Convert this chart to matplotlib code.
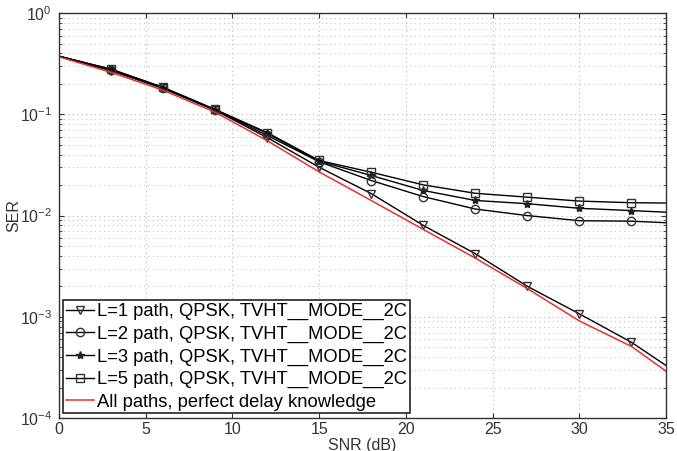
import matplotlib.pyplot as plt
import numpy as np

plt.rcParams['font.family'] = ['Liberation Sans', 'DejaVu Sans']

snr = [0, 3, 6, 9, 12, 15, 18, 21, 24, 27, 30, 33, 35]

ser_l1 = [0.375, 0.27, 0.18, 0.11, 0.059, 0.030, 0.0165, 0.0080, 0.0042, 0.0020, 0.00107, 0.00056, 0.00033]
ser_l2 = [0.375, 0.275, 0.182, 0.11, 0.062, 0.034, 0.0222, 0.0154, 0.0116, 0.0100, 0.0089, 0.0088, 0.0085]
ser_l3 = [0.375, 0.278, 0.184, 0.111, 0.065, 0.0345, 0.0249, 0.0177, 0.0141, 0.0131, 0.0118, 0.0112, 0.0108]
ser_l5 = [0.375, 0.28, 0.185, 0.112, 0.066, 0.035, 0.0268, 0.0201, 0.0166, 0.0152, 0.0139, 0.0134, 0.0133]
ser_ideal = [0.37, 0.26, 0.173, 0.105, 0.055, 0.027, 0.0141, 0.0073, 0.0038, 0.0019, 0.00091, 0.00051, 0.00029]

labels = ['L=1 path, QPSK, TVHT__MODE__2C',
          'L=2 path, QPSK, TVHT__MODE__2C',
          'L=3 path, QPSK, TVHT__MODE__2C',
          'L=5 path, QPSK, TVHT__MODE__2C',
          'All paths, perfect delay knowledge']

fig = plt.figure(figsize=(6.77, 4.51), dpi=100)
ax = fig.add_axes([0.087, 0.073, 0.897, 0.898])

mk = list(range(1, 12))  # markers every 3 dB, not at the ends
ax.semilogy(snr, ser_l1, color='k', lw=1, marker='v', ms=6, mfc='none', mec='#333333', markevery=mk, label=labels[0])
ax.semilogy(snr, ser_l2, color='k', lw=1, marker='o', ms=6, mfc='none', mec='#333333', markevery=mk, label=labels[1])
ax.semilogy(snr, ser_l3, color='k', lw=1, marker='*', ms=6, mfc='#222222', mec='#222222', markevery=mk, label=labels[2])
ax.semilogy(snr, ser_l5, color='k', lw=1, marker='s', ms=6, mfc='none', mec='#333333', markevery=mk, label=labels[3])
ax.semilogy(snr, ser_ideal, color='#e8302a', lw=1.1, label=labels[4])

ax.set_xlim(0, 35)
ax.set_ylim(1e-4, 1)
ax.set_xticks(range(0, 36, 5))
ax.grid(True, which='major', ls=(0, (1, 3)), color='#b8b8b8', lw=0.8)
ax.grid(True, which='minor', axis='y', ls=(0, (1, 3)), color='#c4c4c4', lw=0.8)
ax.tick_params(which='both', direction='in', top=True, right=True, labelsize=11.5, colors='#333333')
ax.tick_params(axis='x', pad=3)
ax.tick_params(axis='y', pad=5)
for s in ax.spines.values():
    s.set_color('#333333')
    s.set_linewidth(1)

ax.set_xlabel('SNR (dB)', fontsize=11.5, color='#333333')
ax.xaxis.set_label_coords(0.5, -0.048)
ax.set_ylabel('SER', fontsize=11.5, color='#333333')
ax.yaxis.set_label_coords(-0.062, 0.5)

leg = ax.legend(loc='lower left', fontsize=13.2, handlelength=1.5, handletextpad=0.2,
                borderpad=0.15, labelspacing=0.3, borderaxespad=0.25, fancybox=False,
                framealpha=1)
leg.get_frame().set_edgecolor('#222222')
leg.get_frame().set_linewidth(1.2)

fig.savefig('out.png', dpi=100)
